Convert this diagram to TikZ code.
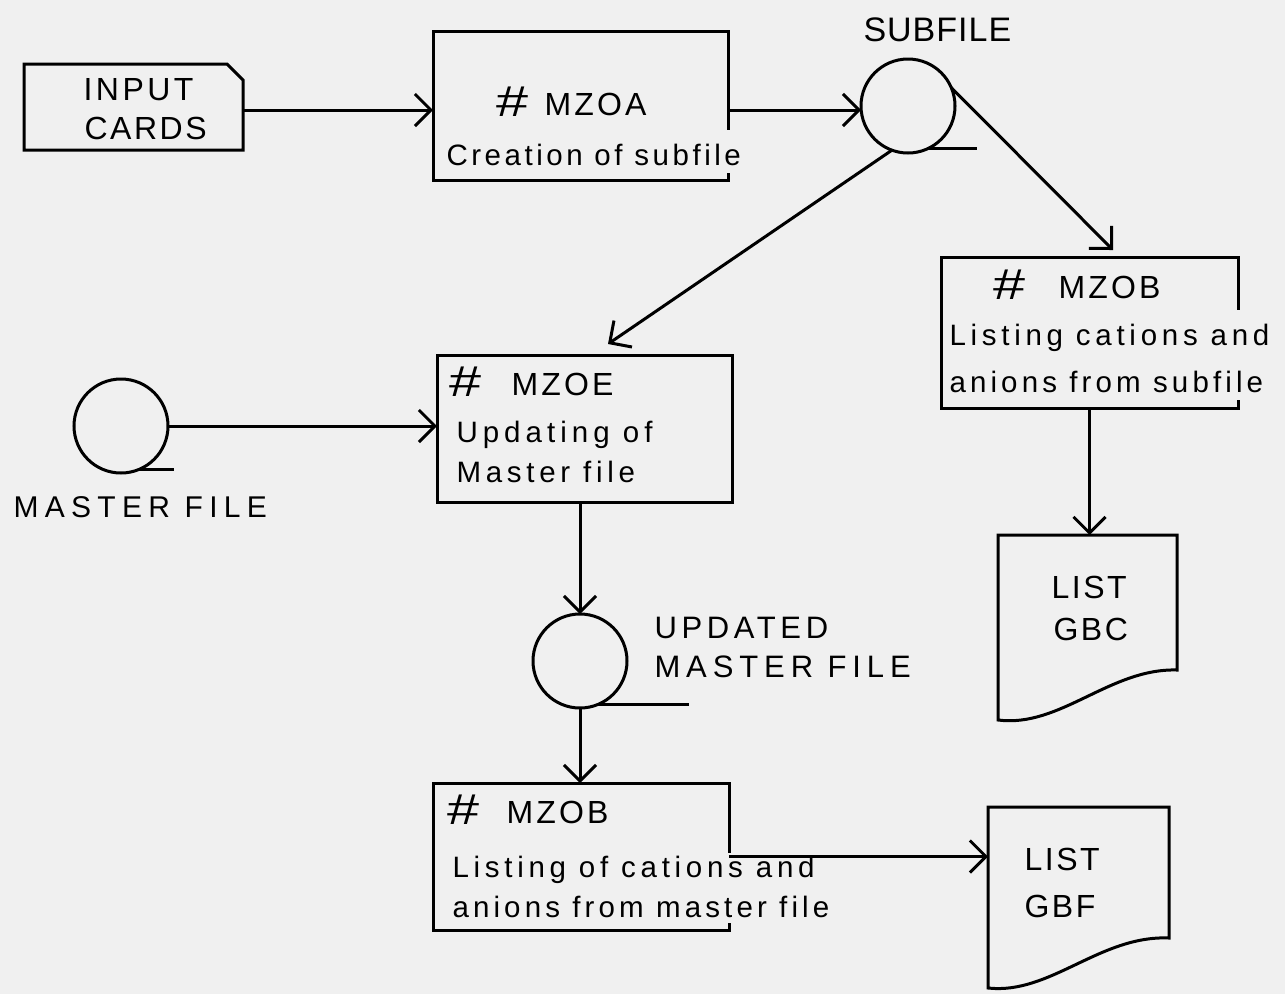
\documentclass[tikz,border=0pt]{standalone}
\usepackage{fontspec}
\setmainfont{Liberation Sans}
\usepackage{graphicx}
\usetikzlibrary{arrows.meta,calc}
\newcommand\hsh{\raisebox{-1pt}{\scalebox{1.8}[1.35]{\#}}}
\newcommand\lsp[2]{{\addfontfeature{LetterSpace=#1}#2}}
\newcommand\hd[2]{\makebox[#1][l]{\hsh}\lsp{10}{#2}}
\begin{document}
\begin{tikzpicture}[x=1pt,y=-1pt,
  line width=3pt, line join=miter,
  arr/.style={-{Straight Barb[length=16pt,width=32pt]}},
  boxn/.style={rectangle, inner sep=0pt, outer sep=0pt},
  txt/.style={anchor=base west, inner sep=0pt, font=\fontsize{29.5}{34}\selectfont},
  captxt/.style={anchor=base west, inner sep=0pt, font=\fontsize{32}{38}\selectfont},
  tape/.style={circle, draw, minimum size=94pt, inner sep=0pt, outer sep=0pt},
]
\useasboundingbox (0,0) rectangle (1285,994);
\fill[black!6] (0,0) rectangle (1285,994);

% ---- shapes ----
\node[boxn, minimum width=219pt, minimum height=86pt] (cards) at (133.5,107) {};
\draw (cards.south west) -- (cards.north west) -- ([xshift=-16pt]cards.north east)
      -- ([yshift=-16pt]cards.north east) -- (cards.south east) -- cycle;

\node[boxn, minimum width=295pt, minimum height=149pt] (mzoa) at (580.5,105.5) {};
\draw (mzoa.south east) ++(0,-7) -- (mzoa.south east) -- (mzoa.south west)
      -- (mzoa.north west) -- (mzoa.north east) -- ++(0,99);

\node[tape] (subfile) at (908,106) {};
\draw (subfile.-66) -- ++(50,0);

\node[boxn, minimum width=297pt, minimum height=151pt] (mzob1) at (1089.5,332.5) {};
\draw (mzob1.south east) ++(0,-8) -- (mzob1.south east) -- (mzob1.south west)
      -- (mzob1.north west) -- (mzob1.north east) -- ++(0,53);

\node[boxn, minimum width=179pt, minimum height=185pt] (gbc) at (1087.5,627.5) {};
\draw (gbc.south west) -- (gbc.north west) -- (gbc.north east) -- ([yshift=50pt]gbc.south east)
      .. controls (1110,668) and (1060,728) .. (gbc.south west) -- cycle;

\node[tape] (master) at (121,426) {};
\draw (master.-69) -- ++(36,0);

\node[boxn, draw, minimum width=295pt, minimum height=147pt] (mzoe) at (584.5,428.5) {};

\node[tape] (upd) at (580,661) {};
\draw (upd.-69) -- ++(92,0);

\node[boxn, minimum width=296pt, minimum height=147pt] (mzob2) at (581,856.5) {};
\draw (mzob2.south east) ++(0,-7) -- (mzob2.south east) -- (mzob2.south west)
      -- (mzob2.north west) -- (mzob2.north east) -- ++(0,70);

\node[boxn, minimum width=181pt, minimum height=181pt] (gbf) at (1078.5,897.5) {};
\draw (gbf.south west) -- (gbf.north west) -- (gbf.north east) -- ([yshift=50pt]gbf.south east)
      .. controls (1100,935) and (1050,995) .. (gbf.south west) -- cycle;

% ---- connectors ----
\draw[arr] ([yshift=-3pt]cards.east) -- ([yshift=-3pt]cards.east -| mzoa.west);
\draw[arr] ([yshift=-4.5pt]mzoa.east) -- ([yshift=-4pt]subfile.west);
\draw[arr] (subfile.23) -- ([xshift=23.5pt,yshift=7pt]mzob1.north);
\draw[arr] (subfile.250) -- ([xshift=23.5pt,yshift=11pt]mzoe.north);
\draw[arr] (master.east) -- (master.east -| mzoe.west);
\draw[arr] (mzoe.south -| upd.north) -- (upd.north);
\draw[arr] (upd.south) -- (upd.south |- mzob2.north);
\draw[arr] (mzob2.east) -- (mzob2.east -| gbf.west);
\draw[arr] (mzob1.south) -- (mzob1.south |- gbc.north);

% ---- texts ----
\node[captxt] (tInput) at (82,100) {\lsp{11}{INPUT}};
\node[captxt] (tCards) at (83,139) {\lsp{8}{CARDS}};

\node[captxt] (tMzoa) at (495,115) {\hd{48pt}{MZOA}};
\node[txt] (tMzoa2) at (445,165) {\lsp{12}{Creation of subfile}};

\node[captxt, font=\fontsize{34}{40}\selectfont] (tSub) at (862,41) {\lsp{3}{SUBFILE}};

\node[captxt] (tMzob1) at (992,298) {\hd{65pt}{MZOB}};
\node[txt] (tMzob1a) at (948,345) {\lsp{16}{Listing cations and}};
\node[txt] (tMzob1b) at (948,392) {\lsp{14}{anions from subfile}};

\node[captxt] (tGbc1) at (1050,598) {\lsp{8}{LIST}};
\node[captxt] (tGbc2) at (1052,640) {\lsp{8}{GBC}};

\node[captxt, font=\fontsize{30}{36}\selectfont] (tMaster) at (12,517) {\lsp{21}{MASTER FILE}};

\node[captxt] (tMzoe) at (448,395) {\hd{62pt}{MZOE}};
\node[txt] (tMzoe1) at (455,442) {\lsp{17}{Updating of}};
\node[txt] (tMzoe2) at (455,482) {\lsp{16}{Master file}};

\node[captxt, font=\fontsize{31}{36}\selectfont] (tUpd1) at (653,638) {\lsp{15}{UPDATED}};
\node[captxt, font=\fontsize{31}{36}\selectfont] (tUpd2) at (653,677) {\lsp{19}{MASTER FILE}};

\node[captxt] (tMzob2) at (446,823) {\hd{59pt}{MZOB}};
\node[txt] (tMzob2a) at (451,877) {\lsp{16}{Listing of cations and}};
\node[txt] (tMzob2b) at (451,917) {\lsp{14}{anions from master file}};

\node[captxt] (tGbf1) at (1023,870) {\lsp{8}{LIST}};
\node[captxt] (tGbf2) at (1023,917) {\lsp{8}{GBF}};
\end{tikzpicture}
\end{document}
